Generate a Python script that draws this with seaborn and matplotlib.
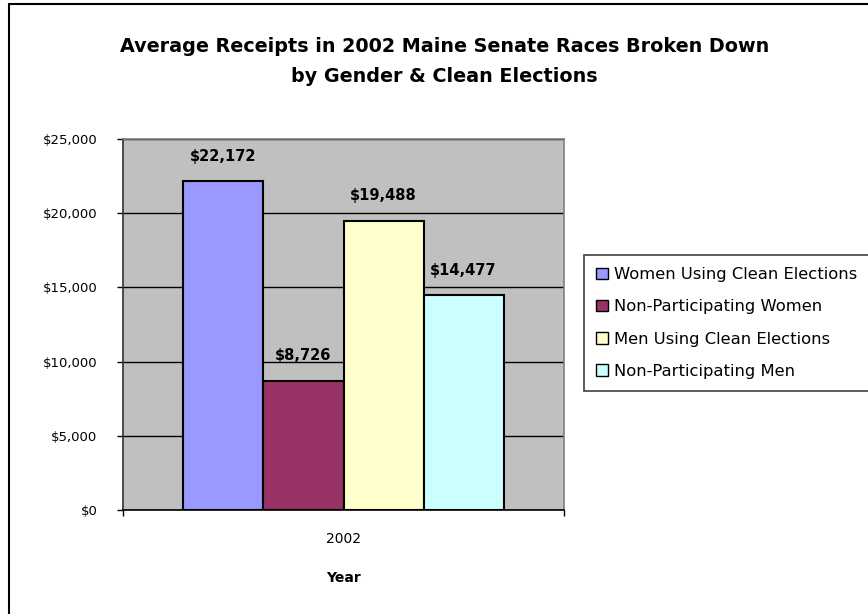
import matplotlib
matplotlib.use("Agg")
import matplotlib.pyplot as plt
import seaborn as sns
import pandas as pd
from matplotlib.patches import Rectangle
from matplotlib.lines import Line2D
from matplotlib.ticker import FuncFormatter

series = ["Women Using Clean Elections", "Non-Participating Women",
          "Men Using Clean Elections", "Non-Participating Men"]
values = [22172, 8726, 19488, 14477]
colors = ["#9999FF", "#993366", "#FFFFCC", "#CCFFFF"]
year = "2002"
y_ticks = [0, 5000, 10000, 15000, 20000, 25000]
title_lines = ["Average Receipts in 2002 Maine Senate Races Broken Down",
               "by Gender & Clean Elections"]

sns.set_theme(style="white")
plt.rcParams['font.family'] = ['DejaVu Sans']
plt.rcParams['text.color'] = 'black'
plt.rcParams['axes.labelcolor'] = 'black'
plt.rcParams['xtick.color'] = 'black'
plt.rcParams['ytick.color'] = 'black'

df = pd.DataFrame({"Year": [year] * len(series), "Series": series, "Receipts": values})

W, H = 868, 614
fig = plt.figure(figsize=(W / 100, H / 100), dpi=100)
fig.patch.set_facecolor("white")
ax = fig.add_axes([123 / W, 1 - 510 / H, 441 / W, 371 / H])
ax.set_facecolor("#C0C0C0")
ax.set_axisbelow(True)
ax.yaxis.grid(True, color="black", linewidth=1)

sns.barplot(data=df, x="Year", y="Receipts", hue="Series", hue_order=series,
            palette=colors, width=0.726, edgecolor="black", linewidth=1.5,
            saturation=1, ax=ax, legend=False, zorder=3)

for cont, v in zip(ax.containers, values):
    ax.bar_label(cont, labels=[f"${v:,}"], padding=12.5, fontsize=10.5,
                 fontweight="bold", color="black")

ax.set_ylim(0, 25000)
ax.set_yticks(y_ticks)
ax.yaxis.set_major_formatter(FuncFormatter(lambda v, p: f"${int(v):,}"))
ax.tick_params(axis="y", which="major", direction="out", length=4.5, width=1,
               color="black", pad=14, labelsize=9.5, left=True, labelcolor="black")

ax.set_xlim(-0.5, 0.5)
ax.set_xticks([0])
ax.set_xticklabels([year])
ax.set_xticks([-0.5, 0.5], minor=True)
ax.tick_params(axis="x", which="major", length=0, pad=16, labelsize=10, labelcolor="black")
ax.tick_params(axis="x", which="minor", direction="out", length=4.5, width=1,
               color="black", bottom=True)
ax.set_xlabel("Year", fontsize=10, fontweight="bold", labelpad=18, color="black")
ax.set_ylabel("")

ax.spines["left"].set_color("#303030")
ax.spines["bottom"].set_color("black")
ax.spines["top"].set_color("#808080")
ax.spines["right"].set_color("#808080")
for s in ax.spines.values():
    s.set_linewidth(1.2)
    s.set_visible(True)

handles = [Rectangle((0, 0), 1, 1, facecolor=c, edgecolor="black", linewidth=1)
           for c in colors]
leg = fig.legend(handles, series, loc="upper left",
                 bbox_to_anchor=(584 / W, 1 - 255 / H), bbox_transform=fig.transFigure,
                 frameon=True, fancybox=False, edgecolor="#404040", framealpha=1,
                 fontsize=11.8, handlelength=0.7, handleheight=0.7,
                 handletextpad=0.4, labelspacing=1.05, borderpad=0.75, borderaxespad=0)
leg.get_frame().set_linewidth(1.2)
for t in leg.get_texts():
    t.set_color("black")

fig.text(0.512, 1 - 47 / H, title_lines[0], ha="center", va="center",
         fontsize=13.8, fontweight="bold", color="black")
fig.text(0.512, 1 - 76 / H, title_lines[1], ha="center", va="center",
         fontsize=13.8, fontweight="bold", color="black")

fig.add_artist(Line2D([9 / W, 1], [1 - 4 / H, 1 - 4 / H], transform=fig.transFigure,
                      color="black", linewidth=1.5))
fig.add_artist(Line2D([9 / W, 9 / W], [0, 1 - 4 / H], transform=fig.transFigure,
                      color="black", linewidth=1.5))

fig.savefig("out.png", dpi=100)
